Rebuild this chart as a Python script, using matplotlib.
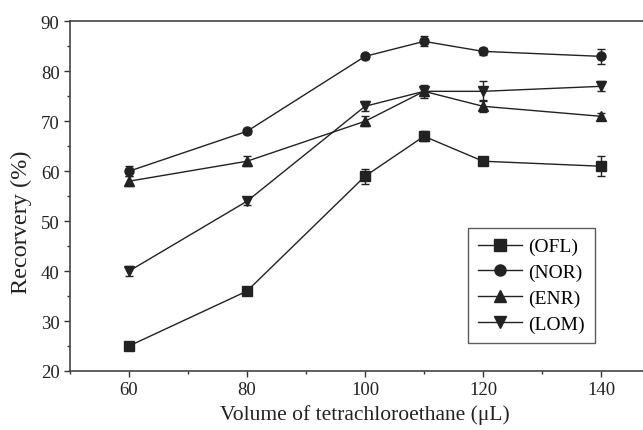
import matplotlib.pyplot as plt
from matplotlib.lines import Line2D
from matplotlib.ticker import MultipleLocator

plt.rcParams['font.family'] = ['Liberation Serif', 'DejaVu Serif']

volume = [60, 80, 100, 110, 120, 140]

ofl = [25, 36, 59, 67, 62, 61]
ofl_err = [0.7, 0.5, 1.5, 1.0, 0.8, 2.0]
nor = [60, 68, 83, 86, 84, 83]
nor_err = [1.0, 0.5, 0.5, 1.0, 0.7, 1.5]
enr = [58, 62, 70, 76, 73, 71]
enr_err = [1.0, 1.0, 1.0, 1.0, 1.2, 0.7]
lom = [40, 54, 73, 76, 76, 77]
lom_err = [1.0, 0.8, 1.0, 1.3, 2.0, 1.0]

series = [
    ('(OFL)', ofl, ofl_err, 's'),
    ('(NOR)', nor, nor_err, 'o'),
    ('(ENR)', enr, enr_err, '^'),
    ('(LOM)', lom, lom_err, 'v'),
]

fig = plt.figure(figsize=(6.43, 4.31), dpi=100)
ax = fig.add_axes([0.1089, 0.137, 0.9176, 0.811])

handles = []
for name, vals, err, mk in series:
    ax.errorbar(volume, vals, yerr=err, color='#222222', marker=mk, markersize=6.5,
                linewidth=1.0, elinewidth=1.0, capsize=3, capthick=1.0)
    handles.append(Line2D([], [], color='#222222', marker=mk, markersize=8,
                          linewidth=1.0, label=name))

ax.set_xlim(50, 150)
ax.set_ylim(20, 90)
ax.set_xticks([60, 80, 100, 120, 140])
ax.xaxis.set_minor_locator(MultipleLocator(10))
ax.yaxis.set_major_locator(MultipleLocator(10))
ax.yaxis.set_minor_locator(MultipleLocator(5))
ax.tick_params(which='major', direction='out', length=4.5, width=1, labelsize=13.5,
               colors='#333333', pad=3)
ax.tick_params(which='minor', direction='out', length=2.5, width=1, colors='#333333')
ax.tick_params(labelcolor='#222222')

for side in ['left', 'bottom', 'top']:
    ax.spines[side].set_color('#444444')
    ax.spines[side].set_linewidth(1.2)
ax.spines['right'].set_visible(False)

ax.set_xlabel('Volume of tetrachloroethane (\u03bcL)', fontsize=15.5, color='#222222', labelpad=4)
ax.set_ylabel('Recorvery (%)', fontsize=17.5, color='#222222')
ax.yaxis.set_label_coords(-0.0644, 0.429)

leg = ax.legend(handles=handles, loc='upper left', bbox_to_anchor=(0.6746, 0.409), fontsize=14,
                frameon=True, fancybox=False, edgecolor='#333333', handlelength=2.3,
                borderpad=0.5, labelspacing=0.42, handletextpad=0.3, borderaxespad=0)
leg.get_frame().set_linewidth(1.0)

fig.savefig('out.png', dpi=100)
